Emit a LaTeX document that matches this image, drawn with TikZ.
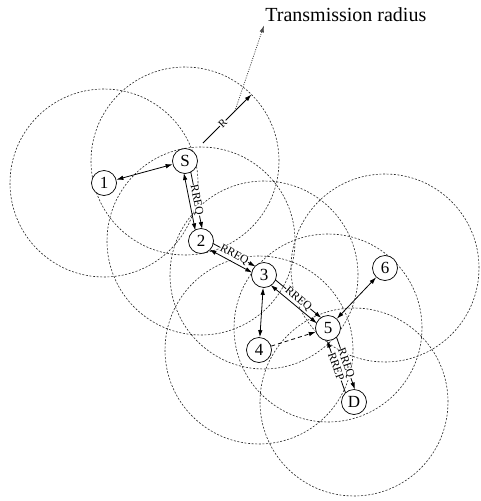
\documentclass[tikz,border=0pt]{standalone}
\usepackage{fontspec}
\setmainfont{Liberation Serif}
\usetikzlibrary{arrows.meta,calc,backgrounds}

\begin{document}
\begin{tikzpicture}
  [x=1pt,y=-1pt,
   every node/.style={circle,draw=black,fill=white,line width=.7pt,minimum size=25pt,inner sep=0pt,font=\fontsize{17}{17}\selectfont},
   etiq/.style={rectangle,draw=none,fill=white,minimum size=0pt,inner sep=.3pt,font=\fontsize{11.5}{11.5}\selectfont},
   rango/.style={draw=black!85,line width=.6pt,dash pattern=on 2pt off 1.6pt},
   uni/.style={-{Latex[length=7pt,width=4.5pt]},line width=.8pt},
   bi/.style={{Latex[length=7pt,width=4.5pt]}-{Latex[length=7pt,width=4.5pt]},line width=.8pt},
   par/.style={shorten <=11.5pt,shorten >=11.5pt}]
  \useasboundingbox (0,0) rectangle (480,501);

  \node (S) at (185,161) {S};
  \node (n1) at (104,183) {1};
  \node (n2) at (201,241) {2};
  \node (n3) at (264,275) {3};
  \node (n4) at (259,350) {4};
  \node (n5) at (328,328) {5};
  \node (n6) at (385,268) {6};
  \node (D) at (354,402) {D};

  % radios de transmision
  \begin{scope}[on background layer]
    \foreach \n in {S,n1,n2,n3,n4,n5,n6,D}
      \draw[rango] (\n) circle (94pt);
  \end{scope}

  \foreach \from/\to in {n1/S, n3/n4, n5/n6}
    \draw[bi] (\from) -- (\to);

  % ruta RREQ
  \foreach \a/\b in {S/n2, n2/n3, n3/n5}{
    \draw[bi,par] ($(\a)!3.5pt!-90:(\b)$) -- ($(\b)!3.5pt!90:(\a)$);
    \draw[uni,par] ($(\a)!3.5pt!90:(\b)$) -- node[etiq,sloped] {RREQ} ($(\b)!3.5pt!-90:(\a)$);
  }
  \draw[uni,par] ($(n5)!5pt!90:(D)$) -- node[etiq,sloped] {RREQ} ($(D)!5pt!-90:(n5)$);
  \draw[uni,par] ($(D)!5pt!90:(n5)$) -- node[etiq,sloped] {RREP} ($(n5)!5pt!-90:(D)$);

  \draw[uni,dash pattern=on 4pt off 3pt] (n4) -- (n5);

  % radio R
  \coordinate (rtip) at ($(S)+(45:94pt)$);
  \coordinate (rpt) at ($(S)!.75!(rtip)$);
  \draw[uni,shorten <=12.5pt] (S) -- node[etiq,sloped,font=\fontsize{11}{11}\selectfont] {R} (rtip);

  \node[draw=none,fill=none,rectangle,minimum size=0pt,anchor=west,inner sep=1pt,font=\fontsize{20}{20}\selectfont] (txt) at (264,15) {Transmission radius};
  \draw[uni,draw=black!70,dash pattern=on 1pt off 1.3pt] (rpt) -- ([yshift=-2pt]txt.south west);
\end{tikzpicture}
\end{document}
